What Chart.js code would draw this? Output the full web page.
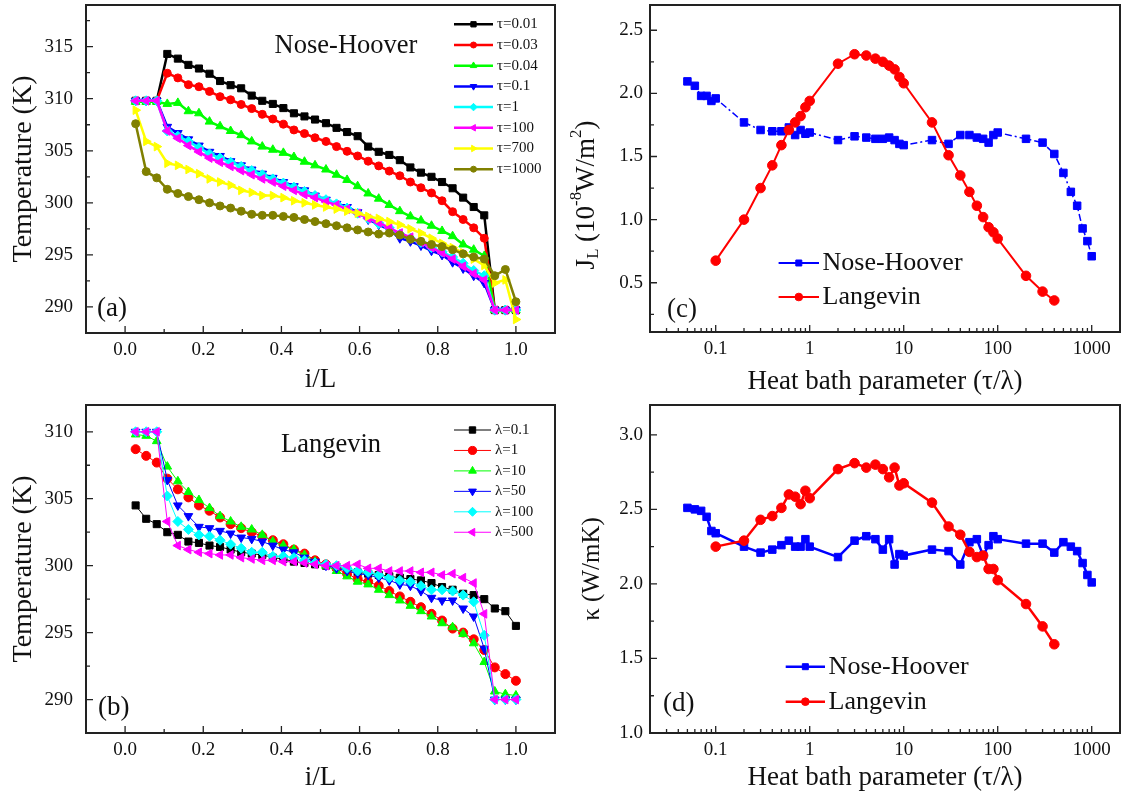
<!DOCTYPE html>
<html>
<head>
<meta charset="utf-8">
<script src="https://cdn.jsdelivr.net/npm/chart.js@4.4.0/dist/chart.umd.min.js"></script>
<style>
  body { margin: 0; background: #fff; width: 1122px; height: 796px; position: relative; overflow: hidden; }
  canvas { position: absolute; }
</style>
</head>
<body>
<canvas id="ca" width="561" height="400" style="left:0;top:0"></canvas>
<canvas id="cb" width="561" height="396" style="left:0;top:400px"></canvas>
<canvas id="cc" width="561" height="400" style="left:561px;top:0"></canvas>
<canvas id="cd" width="561" height="396" style="left:561px;top:400px"></canvas>
<script>
// ---- data: temperature profiles, position i/L ----
const posIL = [0.027, 0.054, 0.081, 0.108, 0.135, 0.162, 0.189, 0.216, 0.243, 0.270, 0.297, 0.324,
  0.351, 0.378, 0.405, 0.432, 0.459, 0.486, 0.514, 0.541, 0.568, 0.595, 0.622, 0.649, 0.676, 0.703,
  0.730, 0.757, 0.784, 0.811, 0.838, 0.865, 0.892, 0.919, 0.946, 0.973, 1.000];

// (a) Nose-Hoover
const tauLabels = ['τ=0.01', 'τ=0.03', 'τ=0.04', 'τ=0.1', 'τ=1', 'τ=100', 'τ=700', 'τ=1000'];
const tTau001 = [309.8, 309.8, 309.8, 314.3, 313.85, 313.25, 312.9, 312.4, 311.7, 311.3, 311.0, 310.3, 309.8,
  309.5, 309.1, 308.6, 308.3, 308.0, 307.65, 307.2, 306.8, 306.4, 305.4, 304.9, 304.6, 304.1, 303.4, 302.9,
  302.5, 302.0, 301.4, 300.5, 299.6, 298.8, 289.7, 289.7, 289.7];
const tTau003 = [309.8, 309.8, 309.8, 312.45, 312.0, 311.35, 311.15, 310.7, 310.2, 309.9, 309.45, 309.05, 308.5,
  308.05, 307.55, 307.0, 306.65, 306.25, 305.9, 305.4, 304.95, 304.5, 304.0, 303.55, 303.05, 302.6, 302.0,
  301.45, 300.95, 300.2, 299.15, 298.4, 297.6, 296.6, 289.7, 289.7, 289.7];
const tTau004 = [309.7, 309.7, 309.7, 309.5, 309.6, 308.8, 308.6, 307.8, 307.35, 306.9, 306.5, 305.9, 305.4,
  305.1, 304.8, 304.4, 303.95, 303.6, 303.2, 302.7, 302.2, 301.6, 300.9, 300.4, 299.8, 299.2, 298.7, 298.3,
  297.8, 297.3, 296.8, 296.0, 295.5, 294.9, 289.7, 289.7, 289.7];
const tTau01 = [309.8, 309.8, 309.8, 307.3, 306.7, 306.1, 305.5, 304.9, 304.5, 304.0, 303.6, 303.2, 302.8,
  302.4, 302.0, 301.6, 301.2, 300.7, 300.3, 299.9, 299.6, 299.1, 298.4, 297.9, 297.4, 296.6, 296.3, 295.9,
  295.4, 295.0, 294.3, 293.7, 293.0, 292.3, 289.7, 289.7, 289.7];
const tTau1 = [309.8, 309.8, 309.8, 306.9, 306.4, 305.9, 305.3, 304.7, 304.3, 303.9, 303.5, 303.1, 302.7,
  302.3, 301.9, 301.5, 301.1, 300.7, 300.3, 299.9, 299.5, 299.0, 298.5, 298.0, 297.6, 297.0, 296.6, 296.2,
  295.7, 295.3, 294.8, 294.2, 293.5, 293.0, 289.7, 289.7, 289.7];
const tTau100 = [309.8, 309.8, 309.8, 306.9, 306.2, 305.5, 304.9, 304.3, 303.9, 303.5, 303.1, 302.7, 302.3,
  302.0, 301.6, 301.2, 300.8, 300.5, 300.1, 299.8, 299.4, 299.0, 298.5, 298.1, 297.6, 297.1, 296.7, 296.2,
  295.7, 295.2, 294.6, 293.9, 293.2, 292.6, 289.7, 289.7, 289.7];
const tTau700 = [308.9, 305.9, 305.4, 303.8, 303.6, 303.2, 302.8, 302.3, 302.0, 301.7, 301.2, 301.0, 300.7,
  300.7, 300.5, 300.2, 300.0, 299.8, 299.6, 299.4, 299.2, 299.0, 298.7, 298.5, 298.2, 297.9, 297.5, 297.1,
  296.6, 296.1, 295.7, 295.2, 294.6, 294.0, 292.3, 292.6, 288.8];
const tTau1000 = [307.6, 303.0, 302.4, 301.3, 300.9, 300.6, 300.3, 300.0, 299.7, 299.5, 299.2, 298.9, 298.8,
  298.8, 298.7, 298.6, 298.4, 298.2, 298.0, 297.8, 297.6, 297.4, 297.2, 297.0, 297.1, 296.9, 296.5, 296.3,
  296.0, 295.8, 295.5, 295.1, 294.8, 294.6, 293.0, 293.6, 290.5];

// (b) Langevin
const lamLabels = ['λ=0.1', 'λ=1', 'λ=10', 'λ=50', 'λ=100', 'λ=500'];
const tLam01 = [304.5, 303.5, 303.1, 302.5, 302.3, 301.8, 301.7, 301.5, 301.4, 301.2, 301.0, 300.9, 300.8,
  300.6, 300.5, 300.3, 300.2, 300.1, 300.0, 299.9, 299.7, 299.5, 299.4, 299.3, 299.2, 299.1, 299.0, 298.9,
  298.7, 298.4, 298.2, 297.9, 297.8, 297.5, 296.8, 296.6, 295.5];
const tLam1 = [308.7, 308.2, 307.7, 306.5, 305.7, 305.1, 304.5, 304.1, 303.6, 303.1, 302.8, 302.5, 302.2,
  301.9, 301.6, 301.2, 300.9, 300.4, 300.1, 299.8, 299.4, 299.0, 298.8, 298.5, 298.1, 297.7, 297.3, 296.9,
  296.4, 295.9, 295.3, 295.0, 294.5, 293.7, 292.4, 291.9, 291.4];
const tLam10 = [309.8, 309.7, 309.3, 307.4, 306.3, 305.5, 304.9, 304.3, 303.7, 303.3, 302.9, 302.7, 302.3,
  301.8, 301.5, 301.2, 300.8, 300.3, 300.0, 299.6, 299.2, 298.8, 298.6, 298.2, 297.8, 297.4, 297.0, 296.6,
  296.2, 295.7, 295.4, 294.9, 294.2, 292.8, 290.6, 290.4, 290.3];
const tLam50 = [310, 310, 310, 306.4, 304.5, 303.7, 302.9, 302.8, 302.6, 302.4, 302.1, 302.0, 301.8, 301.5,
  301.2, 301.0, 300.6, 300.3, 300.0, 299.8, 299.6, 299.4, 299.3, 299.1, 298.9, 298.6, 298.5, 298.1, 297.6,
  297.4, 297.4, 296.8, 296.2, 293.8, 290, 290, 290];
const tLam100 = [310, 310, 310, 305.2, 303.3, 302.7, 302.3, 302.2, 301.9, 301.6, 301.3, 301.0, 301.0, 300.7,
  300.7, 300.6, 300.4, 300.2, 300.1, 300.0, 299.8, 299.6, 299.5, 299.3, 299.1, 298.9, 298.8, 298.5, 298.2,
  298.2, 298.1, 297.8, 297.3, 294.8, 290, 290, 290];
const tLam500 = [310, 310, 310, 303.3, 301.5, 301.2, 301.0, 300.9, 300.8, 300.8, 300.6, 300.5, 300.4, 300.4,
  300.3, 300.3, 300.2, 300.1, 300.0, 300.0, 300.0, 300.1, 299.8, 299.8, 299.6, 299.6, 299.6, 299.5, 299.5,
  299.3, 299.4, 299.1, 298.7, 296.4, 290, 290, 290];

// (c), (d) heat bath parameter sweeps
const tauNH = [0.05, 0.06, 0.07, 0.08, 0.09, 0.1, 0.2, 0.3, 0.4, 0.5, 0.6, 0.7, 0.8, 0.9, 1, 2, 3, 4, 5, 6, 7, 8,
  9, 10, 20, 30, 40, 50, 60, 70, 80, 90, 100, 200, 300, 400, 500, 600, 700, 800, 900, 1000];
const lamLV = [0.1, 0.2, 0.3, 0.4, 0.5, 0.6, 0.7, 0.8, 0.9, 1, 2, 3, 4, 5, 6, 7, 8, 9, 10, 20, 30, 40, 50, 60,
  70, 80, 90, 100, 200, 300, 400];
const fluxNH = [2.095, 2.06, 1.98, 1.98, 1.94, 1.96, 1.77, 1.71, 1.70, 1.70, 1.73, 1.67, 1.71, 1.68, 1.69, 1.63,
  1.66, 1.65, 1.64, 1.64, 1.65, 1.63, 1.60, 1.59, 1.63, 1.60, 1.67, 1.67, 1.65, 1.64, 1.61, 1.67, 1.69, 1.64,
  1.61, 1.52, 1.37, 1.22, 1.11, 0.93, 0.83, 0.71];
const fluxLV = [0.675, 1.0, 1.25, 1.43, 1.59, 1.71, 1.77, 1.82, 1.89, 1.94, 2.235, 2.31, 2.30, 2.275, 2.25, 2.22,
  2.19, 2.13, 2.08, 1.77, 1.51, 1.35, 1.22, 1.11, 1.02, 0.94, 0.90, 0.85, 0.555, 0.43, 0.36];
const kappaNH = [2.51, 2.50, 2.49, 2.45, 2.355, 2.34, 2.25, 2.21, 2.23, 2.26, 2.29, 2.25, 2.25, 2.30, 2.25, 2.18,
  2.29, 2.32, 2.30, 2.23, 2.30, 2.13, 2.20, 2.19, 2.23, 2.22, 2.13, 2.28, 2.30, 2.19, 2.26, 2.32, 2.30, 2.27,
  2.27, 2.21, 2.28, 2.25, 2.22, 2.14, 2.06, 2.01];
const kappaLV = [2.25, 2.29, 2.43, 2.455, 2.51, 2.60, 2.585, 2.535, 2.625, 2.575, 2.77, 2.81, 2.78, 2.80, 2.77,
  2.715, 2.78, 2.66, 2.675, 2.545, 2.385, 2.33, 2.215, 2.18, 2.19, 2.10, 2.10, 2.025, 1.865, 1.715, 1.595];

// ---- tick labels ----
const ticksIL = [0, 0.2, 0.4, 0.6, 0.8, 1.0];
const ticksTempA = [290, 295, 300, 305, 310, 315];
const ticksTempB = [290, 295, 300, 305, 310];
const ticksBath = [0.1, 1, 10, 100, 1000];
const ticksFlux = [0.5, 1.0, 1.5, 2.0, 2.5];
const ticksKappa = [1.0, 1.5, 2.0, 2.5, 3.0];

const SERIF = "'Liberation Serif', 'Times New Roman', serif";
Chart.defaults.font.family = SERIF;
Chart.defaults.color = '#111';

function pts(xs, ys) { return xs.map((x, i) => ({ x: x, y: ys[i] })); }

function lineSet(label, xs, ys, color, style, extra) {
  return Object.assign({
    label: label, data: pts(xs, ys),
    borderColor: color, backgroundColor: color,
    pointBackgroundColor: color, pointBorderColor: color,
    pointStyle: style, pointRadius: 4, pointBorderWidth: 1,
    borderWidth: 2.5, showLine: true, tension: 0
  }, extra || {});
}

function halfSteps(maj, min, max) {
  const step = maj[1] - maj[0], out = [];
  for (let v = maj[0] - step / 2; v <= max + 1e-9; v += step) if (v >= min) out.push(v);
  return out;
}
function logMinors(min, max) {
  const out = [];
  for (let e = -3; e <= 4; e++) for (let m = 2; m <= 9; m++) {
    const v = m * Math.pow(10, e);
    if (v > min && v < max) out.push(v);
  }
  return out;
}

function drawMark(ctx, ds, x, y, r) {
  ctx.fillStyle = ds.pointBackgroundColor;
  ctx.strokeStyle = ds.pointBorderColor;
  ctx.lineWidth = 1;
  if (Chart.helpers && Chart.helpers.drawPoint) {
    Chart.helpers.drawPoint(ctx, { pointStyle: ds.pointStyle, rotation: ds.pointRotation || 0, radius: r, borderWidth: 1 }, x, y);
  } else {
    ctx.beginPath(); ctx.arc(x, y, r, 0, Math.PI * 2); ctx.fill();
  }
}

// frame, inward ticks, panel texts and legend
const deco = {
  id: 'deco',
  afterDraw(chart, args, o) {
    const ctx = chart.ctx, a = chart.chartArea, sx = chart.scales.x, sy = chart.scales.y;
    ctx.save();
    ctx.strokeStyle = '#222';
    ctx.lineWidth = 1.3;
    const majX = sx.ticks.map(t => t.value), majY = sy.ticks.map(t => t.value);
    const minX = o.logX ? logMinors(sx.min, sx.max) : halfSteps(majX, sx.min, sx.max);
    const minY = halfSteps(majY, sy.min, sy.max);
    ctx.beginPath();
    majX.forEach(v => { const p = sx.getPixelForValue(v); ctx.moveTo(p, a.bottom); ctx.lineTo(p, a.bottom - 7); });
    minX.forEach(v => { const p = sx.getPixelForValue(v); ctx.moveTo(p, a.bottom); ctx.lineTo(p, a.bottom - 4); });
    majY.forEach(v => { const p = sy.getPixelForValue(v); ctx.moveTo(a.left, p); ctx.lineTo(a.left + 7, p); });
    minY.forEach(v => { const p = sy.getPixelForValue(v); ctx.moveTo(a.left, p); ctx.lineTo(a.left + 4, p); });
    ctx.stroke();
    ctx.lineWidth = 2;
    ctx.strokeRect(a.left, a.top, a.right - a.left, a.bottom - a.top);

    ctx.fillStyle = '#111';
    ctx.textBaseline = 'middle';
    (o.texts || []).forEach(t => {
      ctx.font = t.size + 'px ' + SERIF;
      ctx.textAlign = t.align || 'left';
      ctx.fillText(t.t, t.x, t.y);
    });

    const lg = o.legend;
    if (lg) {
      chart.data.datasets.forEach((ds, i) => {
        const y = lg.y0 + i * lg.dy;
        ctx.strokeStyle = ds.borderColor;
        ctx.lineWidth = lg.lw;
        ctx.setLineDash([]);
        ctx.beginPath(); ctx.moveTo(lg.x0, y); ctx.lineTo(lg.x1, y); ctx.stroke();
        drawMark(ctx, ds, (lg.x0 + lg.x1) / 2, y, ds.pointRadius * lg.k);
        ctx.fillStyle = '#111';
        ctx.font = lg.size + 'px ' + SERIF;
        ctx.textAlign = 'left';
        ctx.textBaseline = 'middle';
        ctx.fillText(ds.label, lg.tx, y);
      });
    }

    const jt = o.jTitle;
    if (jt) {
      const runs = [['J', 1, 0], ['L', 0.62, 0.24], [' (10', 1, 0], ['-8', 0.62, -0.4], ['W/m', 1, 0], ['2', 0.62, -0.4], [')', 1, 0]];
      let total = 0;
      runs.forEach(r => { ctx.font = (jt.size * r[1]) + 'px ' + SERIF; total += ctx.measureText(r[0]).width; });
      ctx.translate(jt.x, jt.y);
      ctx.rotate(-Math.PI / 2);
      ctx.textAlign = 'left';
      ctx.textBaseline = 'middle';
      ctx.fillStyle = '#111';
      let cx = -total / 2;
      runs.forEach(r => {
        ctx.font = (jt.size * r[1]) + 'px ' + SERIF;
        ctx.fillText(r[0], cx, r[2] * jt.size);
        cx += ctx.measureText(r[0]).width;
      });
    }
    ctx.restore();
  }
};

function zeroPad(s) { s.paddingLeft = 0; s.paddingRight = 0; s.paddingTop = 0; s.paddingBottom = 0; }

function makeChart(id, c) {
  return new Chart(document.getElementById(id), {
    type: 'scatter',
    data: { datasets: c.datasets },
    options: {
      responsive: false, animation: false, events: [],
      layout: { padding: c.pad, autoPadding: false },
      plugins: { legend: { display: false }, tooltip: { enabled: false }, deco: c.deco },
      scales: {
        x: {
          type: c.logX ? 'logarithmic' : 'linear',
          min: c.xMin, max: c.xMax,
          grid: { display: false, drawTicks: false },
          border: { display: false },
          afterBuildTicks: s => { s.ticks = c.xTicks.map(v => ({ value: v })); },
          afterFit: s => { s.height = c.xH; zeroPad(s); },
          ticks: { font: { size: 19 }, padding: 6, maxRotation: 0, autoSkip: false, color: '#111', callback: c.xFmt },
          title: { display: true, text: c.xTitle, font: { size: 27 }, color: '#111', padding: { top: 0, bottom: c.xTitlePad } }
        },
        y: {
          min: c.yMin, max: c.yMax,
          grid: { display: false, drawTicks: false },
          border: { display: false },
          afterBuildTicks: s => { s.ticks = c.yTicks.map(v => ({ value: v })); },
          afterFit: s => { s.width = c.yW; zeroPad(s); },
          ticks: { font: { size: 19 }, padding: c.yPad, autoSkip: false, color: '#111', callback: c.yFmt },
          title: { display: !!c.yTitle, text: c.yTitle || '', font: { size: c.yTitleSize || 28 }, color: '#111', padding: { top: c.yTitlePad, bottom: 0 } }
        }
      }
    },
    plugins: [deco]
  });
}

function ordered(list) { list.forEach((d, i) => { d.order = -i; }); return list; }

const tri = 'triangle';
makeChart('ca', {
  datasets: ordered([
    lineSet(tauLabels[0], posIL, tTau001, '#000000', 'rect', { pointRadius: 5 }),
    lineSet(tauLabels[1], posIL, tTau003, '#ff0000', 'circle'),
    lineSet(tauLabels[2], posIL, tTau004, '#00ff00', tri, { pointRadius: 5 }),
    lineSet(tauLabels[3], posIL, tTau01, '#0000ff', tri, { pointRadius: 5, pointRotation: 180 }),
    lineSet(tauLabels[4], posIL, tTau1, '#00ffff', 'rectRot', { pointRadius: 5 }),
    lineSet(tauLabels[5], posIL, tTau100, '#ff00ff', tri, { pointRadius: 5, pointRotation: -90 }),
    lineSet(tauLabels[6], posIL, tTau700, '#ffff00', tri, { pointRadius: 5, pointRotation: 90 }),
    lineSet(tauLabels[7], posIL, tTau1000, '#808000', 'circle')
  ]),
  pad: { left: 0, top: 5, right: 6, bottom: 0 },
  xMin: -0.1, xMax: 1.1, xTicks: ticksIL, xFmt: v => v.toFixed(1), xH: 67, xTitle: 'i/L', xTitlePad: 4,
  yMin: 287.5, yMax: 319, yTicks: ticksTempA, yFmt: v => String(v), yW: 86, yPad: 13,
  yTitle: 'Temperature (K)', yTitlePad: 7,
  deco: {
    texts: [{ t: 'Nose-Hoover', x: 346, y: 46, size: 26.5, align: 'center' }, { t: '(a)', x: 97, y: 309, size: 27 }],
    legend: { x0: 454, x1: 493, tx: 497, y0: 24.3, dy: 20.7, size: 15, lw: 2.5, k: 0.75 }
  }
});

const thin = { borderWidth: 1, pointRadius: 5 };
makeChart('cb', {
  datasets: ordered([
    lineSet(lamLabels[0], posIL, tLam01, '#000000', 'rect', thin),
    lineSet(lamLabels[1], posIL, tLam1, '#ff0000', 'circle', { borderWidth: 1, pointRadius: 4.5 }),
    lineSet(lamLabels[2], posIL, tLam10, '#00ff00', tri, thin),
    lineSet(lamLabels[3], posIL, tLam50, '#0000ff', tri, Object.assign({ pointRotation: 180 }, thin)),
    lineSet(lamLabels[4], posIL, tLam100, '#00ffff', 'rectRot', thin),
    lineSet(lamLabels[5], posIL, tLam500, '#ff00ff', tri, Object.assign({ pointRotation: -90 }, thin))
  ]),
  pad: { left: 0, top: 5, right: 6, bottom: 0 },
  xMin: -0.1, xMax: 1.1, xTicks: ticksIL, xFmt: v => v.toFixed(1), xH: 63, xTitle: 'i/L', xTitlePad: 2,
  yMin: 287.5, yMax: 312, yTicks: ticksTempB, yFmt: v => String(v), yW: 86, yPad: 13,
  yTitle: 'Temperature (K)', yTitlePad: 7,
  deco: {
    texts: [{ t: 'Langevin', x: 331, y: 45, size: 26.5, align: 'center' }, { t: '(b)', x: 98, y: 308, size: 27 }],
    legend: { x0: 454, x1: 491, tx: 495, y0: 30, dy: 20.45, size: 15, lw: 1, k: 0.9 }
  }
});

makeChart('cc', {
  datasets: ordered([
    lineSet('Nose-Hoover', tauNH, fluxNH, '#0000ff', 'rect', { pointRadius: 5.3, borderWidth: 1.5, borderDash: [7, 3, 2, 3] }),
    lineSet('Langevin', lamLV, fluxLV, '#ff0000', 'circle', { pointRadius: 4.8, borderWidth: 2 })
  ]),
  pad: { left: 0, top: 5, right: 2, bottom: 0 }, logX: true,
  xMin: 0.02, xMax: 2000, xTicks: ticksBath, xFmt: v => String(v), xH: 68,
  xTitle: 'Heat bath parameter (τ/λ)', xTitlePad: 2,
  yMin: 0.11, yMax: 2.7, yTicks: ticksFlux, yFmt: v => v.toFixed(1), yW: 89, yPad: 7,
  deco: {
    logX: true,
    texts: [{ t: '(c)', x: 106, y: 310, size: 27 }],
    legend: { x0: 217.6, x1: 258, tx: 261.5, y0: 263, dy: 34, size: 26, lw: 2, k: 0.8 },
    jTitle: { x: 26, y: 195, size: 27 }
  }
});

makeChart('cd', {
  datasets: ordered([
    lineSet('Nose-Hoover', tauNH, kappaNH, '#0000ff', 'rect', { pointRadius: 5.3, borderWidth: 2.5 }),
    lineSet('Langevin', lamLV, kappaLV, '#ff0000', 'circle', { pointRadius: 4.8, borderWidth: 2.5 })
  ]),
  pad: { left: 0, top: 5, right: 2, bottom: 0 }, logX: true,
  xMin: 0.02, xMax: 2000, xTicks: ticksBath, xFmt: v => String(v), xH: 63,
  xTitle: 'Heat bath parameter (τ/λ)', xTitlePad: 2,
  yMin: 1.0, yMax: 3.2, yTicks: ticksKappa, yFmt: v => v.toFixed(1), yW: 89, yPad: 7,
  yTitle: 'κ (W/mK)', yTitleSize: 25, yTitlePad: 16,
  deco: {
    logX: true,
    texts: [{ t: '(d)', x: 102, y: 304, size: 27 }],
    legend: { x0: 224.7, x1: 264, tx: 267.6, y0: 266.7, dy: 35, size: 26, lw: 2.5, k: 0.8 }
  }
});
</script>
</body>
</html>
